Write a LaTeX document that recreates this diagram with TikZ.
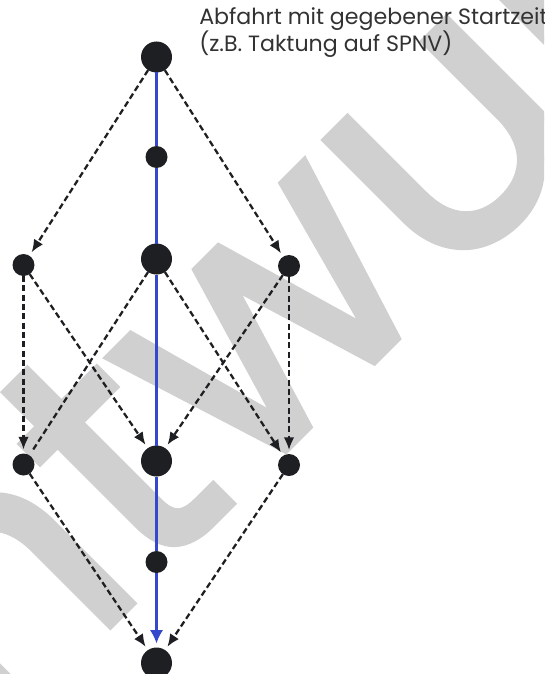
\documentclass[tikz,border=0pt]{standalone}
\usepackage{fontspec}
\setmainfont{Poppins}
\newfontfamily\draftfont{Poppins}[FakeBold=2]
\usetikzlibrary{arrows.meta}

\definecolor{routeblue}{RGB}{52,72,204}
\definecolor{nodeblack}{RGB}{30,31,34}
\definecolor{draftgrey}{RGB}{208,208,208}
\definecolor{labelgrey}{RGB}{50,50,50}

\begin{document}
\begin{tikzpicture}[
    x=0.75pt, y=-0.75pt,
    >={Latex[length=9.5pt,width=8pt]},
    hub/.style={circle, fill=nodeblack, inner sep=0pt, outer sep=0pt, minimum size=23.25pt},
    halt/.style={circle, fill=nodeblack, inner sep=0pt, outer sep=0pt, minimum size=16.5pt},
    option/.style={->, draw=nodeblack, line width=1.7pt, dash pattern=on 4.5pt off 2.5pt, shorten >=3pt},
    route/.style={draw=routeblue, line width=2.8pt}
]
\clip (0,0) rectangle (544,674);
\node[rotate=45, anchor=base, inner sep=0pt, text=draftgrey, font=\fontsize{262}{265}\draftfont] (draft) at (320,416) {Entwurf};

\node[anchor=base west, align=left, inner sep=0pt, text=labelgrey, font=\fontsize{16.6}{18.75}\selectfont] (note) at (199,52) {Abfahrt mit gegebener Startzeit\\(z.B. Taktung auf SPNV)};

\node[hub] (start) at (156.5,57) {};
\node[halt] (halt1) at (156.5,157) {};
\node[hub] (hub1) at (156.5,259) {};
\node[halt] (left1) at (23.5,265) {};
\node[halt] (right1) at (289,266) {};
\node[hub] (hub2) at (156.5,461) {};
\node[halt] (left2) at (23.5,464.5) {};
\node[halt] (right2) at (289,465) {};
\node[halt] (halt2) at (156.5,562) {};
\node[hub] (goal) at (156.5,663) {};

\draw[route] (start) -- (halt1);
\draw[route] (halt1) -- (hub1);
\draw[route] (hub1) -- (hub2);
\draw[route] (hub2) -- (halt2);
\draw[route, -{Latex[length=10pt,width=10pt]}, shorten >=3pt] (halt2) -- (goal);

\draw[option] (start) -- (left1);
\draw[option] (start) -- (right1);
\draw[option] (left1) -- (left2);
\draw[option] (left1) -- (hub2);
\draw[option, -] (hub1) -- (left2);
\draw[option] (hub1) -- (right2);
\draw[option] (right1) -- (hub2);
\draw[option] (right1) -- (right2);
\draw[option] (left2) -- (goal);
\draw[option] (right2) -- (goal);
\end{tikzpicture}
\end{document}
